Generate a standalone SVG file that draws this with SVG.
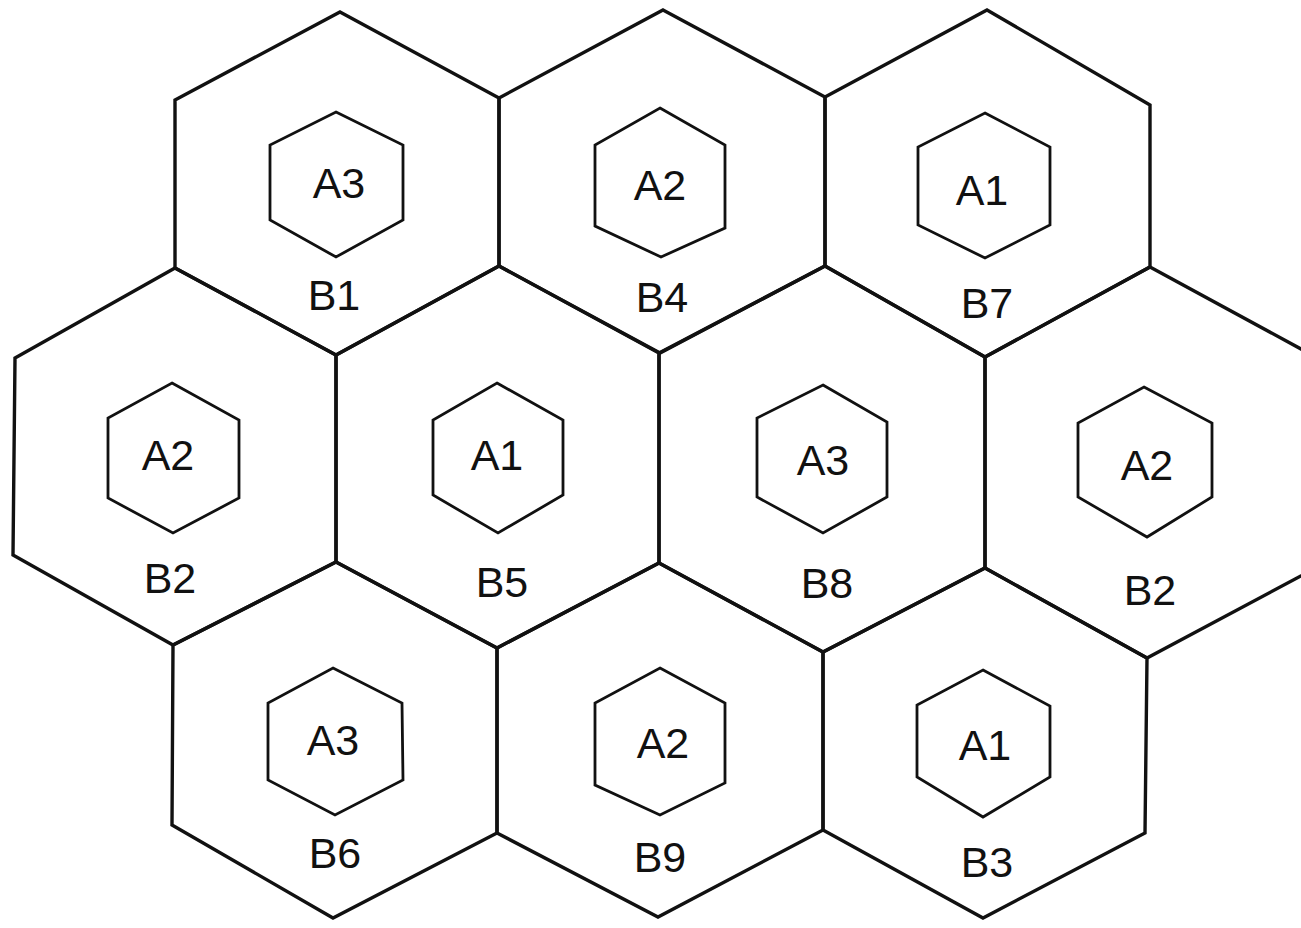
<svg xmlns="http://www.w3.org/2000/svg" width="1301" height="928" viewBox="0 0 1301 928">
<style>
.cell{fill:none;stroke:#111;stroke-width:3.4;stroke-linejoin:miter}
.core{fill:none;stroke:#111;stroke-width:2.8;stroke-linejoin:miter}
.t{font-family:"Liberation Sans",Arial,sans-serif;font-size:43px;fill:#111;text-anchor:middle}
</style>
<rect width="1301" height="928" fill="#fff"/>
<g id="B1">
<polygon class="cell" points="340,12 499,98 499,266 336,355 175,268 175,100"/>
<polygon class="core" points="336,112 403,145 403,220 336,257 270,220 270,145"/>
<text class="t" x="339" y="198">A3</text>
<text class="t" x="334" y="310">B1</text>
</g>
<g id="B4">
<polygon class="cell" points="663,10 825,97 825,266 660,353 499,266 499,98"/>
<polygon class="core" points="660,108 725,145 725,228 661,257 595,226 595,145"/>
<text class="t" x="660" y="200">A2</text>
<text class="t" x="662" y="312">B4</text>
</g>
<g id="B7">
<polygon class="cell" points="987,10 1150,105 1150,267 985,357 825,266 825,97"/>
<polygon class="core" points="985,113 1050,147 1050,225 985,258 918,225 918,147"/>
<text class="t" x="982" y="205">A1</text>
<text class="t" x="987" y="318">B7</text>
</g>
<g id="B2-left">
<polygon class="cell" points="175,268 336,355 336,562 173,645 13,555 15,358"/>
<polygon class="core" points="172,383 239,420 239,498 173,533 108,498 108,418"/>
<text class="t" x="168" y="470">A2</text>
<text class="t" x="170" y="593">B2</text>
</g>
<g id="B5">
<polygon class="cell" points="499,266 659,353 659,563 497,648 336,562 336,355"/>
<polygon class="core" points="497,383 563,420 563,495 498,533 433,495 433,420"/>
<text class="t" x="497" y="470">A1</text>
<text class="t" x="502" y="597">B5</text>
</g>
<g id="B8">
<polygon class="cell" points="825,266 985,357 985,568 823,652 659,563 659,353"/>
<polygon class="core" points="823,385 887,422 887,497 823,533 757,497 757,418"/>
<text class="t" x="823" y="475">A3</text>
<text class="t" x="827" y="598">B8</text>
</g>
<g id="B2-right">
<polygon class="cell" points="1150,267 1312,355 1312,570 1147,658 985,568 985,357"/>
<polygon class="core" points="1144,387 1212,423 1212,497 1147,537 1078,497 1078,423"/>
<text class="t" x="1147" y="480">A2</text>
<text class="t" x="1150" y="605">B2</text>
</g>
<g id="B6">
<polygon class="cell" points="336,562 497,648 497,833 333,918 172,825 173,645"/>
<polygon class="core" points="333,668 402,703 403,780 335,815 268,780 268,703"/>
<text class="t" x="333" y="755">A3</text>
<text class="t" x="335" y="868">B6</text>
</g>
<g id="B9">
<polygon class="cell" points="659,563 823,652 823,830 658,917 497,833 497,648"/>
<polygon class="core" points="660,668 725,703 725,783 660,815 595,785 595,703"/>
<text class="t" x="663" y="758">A2</text>
<text class="t" x="660" y="872">B9</text>
</g>
<g id="B3">
<polygon class="cell" points="985,568 1147,658 1145,833 983,918 823,830 823,652"/>
<polygon class="core" points="983,670 1050,706 1050,777 983,817 917,777 917,705"/>
<text class="t" x="985" y="760">A1</text>
<text class="t" x="987" y="877">B3</text>
</g>
<g id="connectors"/>
</svg>
